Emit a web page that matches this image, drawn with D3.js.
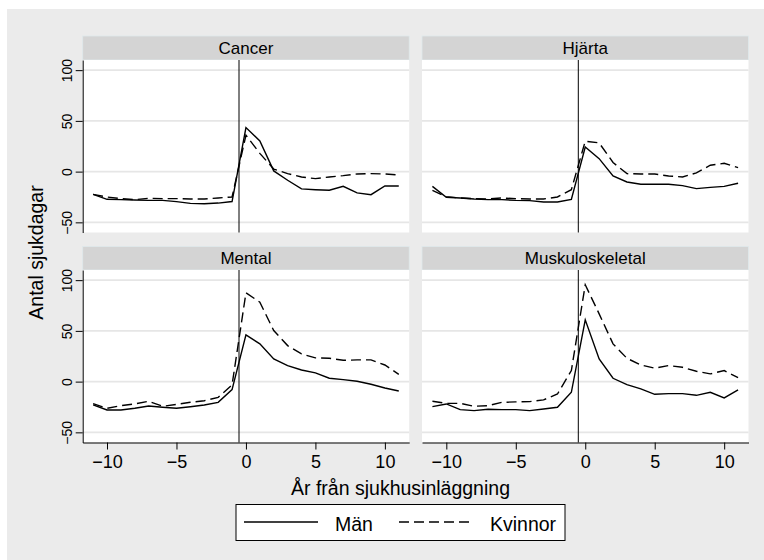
<!DOCTYPE html>
<html>
<head>
<meta charset="utf-8">
<script src="https://cdn.jsdelivr.net/npm/d3@7"></script>
<style>
  body { margin: 0; background: #fff; }
  text { font-family: "Liberation Sans", Arial, sans-serif; fill: #000; }
</style>
</head>
<body>
<div id="chart"></div>
<script>
// years relative to hospital admission
const years = [-11, -10, -9, -8, -7, -6, -5, -4, -3, -2, -1, 0, 1, 2, 3, 4, 5, 6, 7, 8, 9, 10, 11];
const panelNames = ["Cancer", "Hjärta", "Mental", "Muskuloskeletal"];
const seriesNames = ["Män", "Kvinnor"];

const manCancer = [-22.4, -27.3, -27.6, -28, -28.3, -28.3, -29.6, -31.3, -31.6, -31, -29.5, 43.4, 30.3, 0.7, -8.5, -17, -17.8, -18.4, -14.5, -21, -22.7, -14.1, -14.1];
const womanCancer = [-22.4, -25, -26.6, -27.6, -26.3, -26.6, -26.6, -27, -27, -26, -25, 35.9, 18, 2.5, -2, -5.3, -6.9, -5.3, -4, -2.3, -2, -2.3, -3.3];
const manHeart = [-14.5, -25.3, -26, -27, -27.6, -27.6, -28.3, -28.6, -30, -30, -27.3, 24.3, 12.8, -4.3, -10.2, -12.5, -12.5, -12.5, -13.8, -16.8, -15.5, -14.5, -11.5];
const womanHeart = [-18.5, -24.7, -26, -26.6, -27, -26, -26.6, -27, -27, -25, -17.8, 30, 28.3, 9, -2, -2.3, -2.3, -4.3, -5.3, -1.3, 6.3, 8.2, 4];
const manMental = [-23, -28, -28, -26.3, -24, -25.3, -26.3, -24.7, -23, -20.4, -7.9, 46, 37.2, 22.4, 15.8, 11.5, 8.6, 3.3, 2, 0.3, -2.6, -6.3, -9.2];
const womanMental = [-21.7, -26.3, -23.7, -22, -19.4, -24.3, -22.4, -20.4, -18.8, -15.5, -3.3, 87.5, 78.3, 50.3, 35.5, 27.3, 23.4, 23, 21, 21.4, 21.4, 16.4, 7.2];
const manMusk = [-24.7, -22, -27.6, -28.6, -27.3, -27.6, -27.6, -28.6, -27, -25.3, -10.5, 60.9, 22.4, 3.3, -3, -7.2, -12.5, -11.8, -11.8, -13.5, -10.5, -16.1, -8.2];
const womanMusk = [-19.4, -21.4, -21.4, -24.3, -23.7, -20.4, -20, -19.7, -18, -12.2, 10.9, 95.4, 66.8, 37.2, 23, 16.4, 13.2, 15.8, 14.1, 10.2, 7.6, 10.9, 3.9];

const yTicks = [-50, 0, 50, 100];
const xTicks = [-10, -5, 0, 5, 10];
const admission = -0.5;

const menByPanel = [manCancer, manHeart, manMental, manMusk];
const womenByPanel = [womanCancer, womanHeart, womanMental, womanMusk];

const width = 764;
const height = 560;
const panelW = 326.5;
const plotH = 172.5;
const colX = [82.7, 422];
const rowY = [60, 270];
const stripH = [24, 23.5];
const dash = "10,5";

const svg = d3
  .select("#chart")
  .append("svg")
  .attr("width", width)
  .attr("height", height);

svg
  .append("rect")
  .attr("x", 7)
  .attr("y", 9)
  .attr("width", width - 7)
  .attr("height", height - 9)
  .attr("fill", "#ebebeb");

const xScale = d3.scaleLinear().domain([-11.75, 11.75]).range([0, panelW]);
const yScale = d3.scaleLinear().domain([-60, 110]).range([plotH, 0]);

const line = d3
  .line()
  .x((d, i) => xScale(years[i]))
  .y((d) => yScale(d));

panelNames.forEach((name, i) => {
  const col = i % 2;
  const row = Math.floor(i / 2);
  const g = svg
    .append("g")
    .attr("transform", `translate(${colX[col]},${rowY[row]})`);

  // strip
  g.append("rect")
    .attr("x", 0)
    .attr("y", -stripH[row])
    .attr("width", panelW)
    .attr("height", stripH[row])
    .attr("fill", "#d4d4d4")
    .attr("stroke", "#dfe9ec")
    .attr("stroke-width", 0.8);
  g.append("text")
    .attr("x", panelW / 2)
    .attr("y", -6.5)
    .attr("text-anchor", "middle")
    .style("font-size", "17px")
    .text(name);

  // plot region
  g.append("rect")
    .attr("x", 0)
    .attr("y", 0)
    .attr("width", panelW)
    .attr("height", plotH)
    .attr("fill", "#fff");

  g.selectAll(".grid")
    .data(yTicks)
    .enter()
    .append("line")
    .attr("x1", 0)
    .attr("x2", panelW)
    .attr("y1", (d) => yScale(d))
    .attr("y2", (d) => yScale(d))
    .attr("stroke", "#e6e6e6")
    .attr("stroke-width", 1.6);

  g.append("line")
    .attr("x1", xScale(admission))
    .attr("x2", xScale(admission))
    .attr("y1", 0)
    .attr("y2", plotH)
    .attr("stroke", "#000")
    .attr("stroke-width", 1);

  g.append("path")
    .datum(menByPanel[i])
    .attr("d", line)
    .style("fill", "none")
    .style("stroke", "#000")
    .style("stroke-width", 1.4);
  g.append("path")
    .datum(womenByPanel[i])
    .attr("d", line)
    .style("fill", "none")
    .style("stroke", "#000")
    .style("stroke-width", 1.4)
    .style("stroke-dasharray", dash);

  if (col === 0) {
    const ax = g
      .append("g")
      .call(d3.axisLeft(yScale).tickValues(yTicks).tickSize(7).tickSizeOuter(0));
    ax.attr("font-family", null).attr("font-size", null);
    ax.selectAll("text")
      .attr("transform", "rotate(-90)")
      .attr("x", 0)
      .attr("y", -11)
      .attr("dy", 0)
      .style("text-anchor", "middle")
      .style("font-size", "14px");
  }
  if (row === 1) {
    const ax = g
      .append("g")
      .attr("transform", `translate(0,${plotH})`)
      .call(
        d3.axisBottom(xScale).tickValues(xTicks).tickSize(7).tickSizeOuter(0).tickPadding(6)
      );
    ax.attr("font-family", null).attr("font-size", null);
    ax.selectAll("text").style("font-size", "18px");
  }
});

// axis titles
svg
  .append("text")
  .attr("transform", "translate(42.5,252.5) rotate(-90)")
  .attr("text-anchor", "middle")
  .style("font-size", "19.5px")
  .text("Antal sjukdagar");
svg
  .append("text")
  .attr("x", 400.5)
  .attr("y", 495)
  .attr("text-anchor", "middle")
  .style("font-size", "19.5px")
  .text("År från sjukhusinläggning");

// legend
const legend = svg.append("g").attr("transform", "translate(236,504.5)");
legend
  .append("rect")
  .attr("width", 329)
  .attr("height", 36)
  .attr("fill", "#fff")
  .attr("stroke", "#000")
  .attr("stroke-width", 1);
const legendItems = [
  { name: seriesNames[0], x1: 8, x2: 82, tx: 99, dash: null },
  { name: seriesNames[1], x1: 163, x2: 238, tx: 254, dash: dash },
];
legendItems.forEach((d) => {
  legend
    .append("line")
    .attr("x1", d.x1)
    .attr("x2", d.x2)
    .attr("y1", 17.5)
    .attr("y2", 17.5)
    .style("stroke", "#000")
    .style("stroke-width", 1.4)
    .style("stroke-dasharray", d.dash);
  legend
    .append("text")
    .attr("x", d.tx)
    .attr("y", 26)
    .style("font-size", "19.5px")
    .text(d.name);
});
</script>
</body>
</html>
